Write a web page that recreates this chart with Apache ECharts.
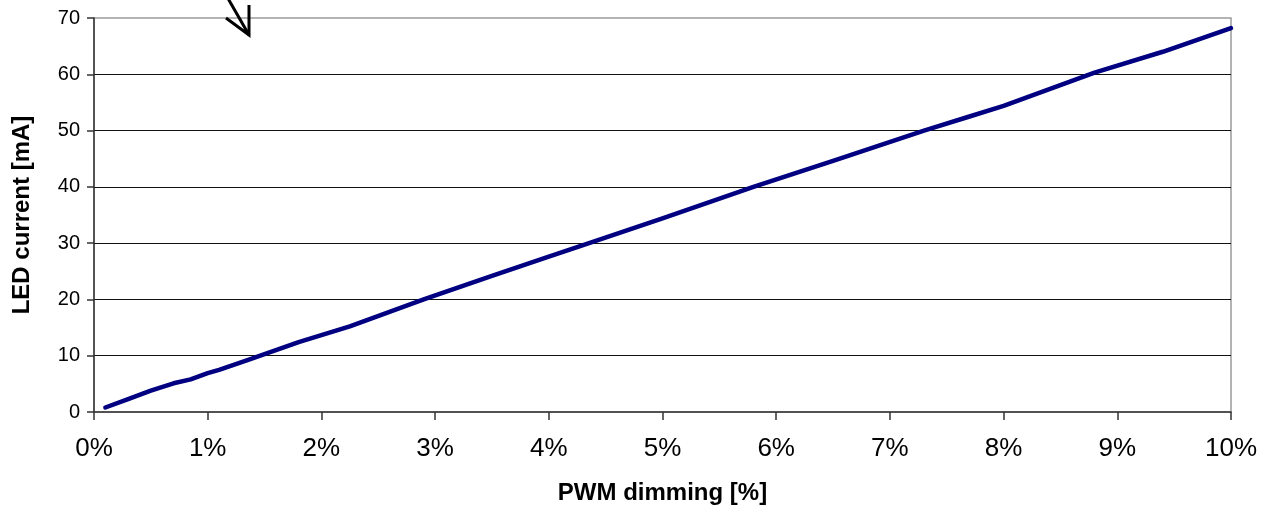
<!DOCTYPE html>
<html>
<head>
<meta charset="utf-8">
<script src="https://cdn.jsdelivr.net/npm/echarts@6/dist/echarts.min.js"></script>
<style>
html,body{margin:0;padding:0;background:#fff;}
#chart{width:1272px;height:505px;}
</style>
</head>
<body>
<div id="chart"></div>
<script>
// PWM dimming [%]
var pwmPercent = [0.1, 0.3, 0.5, 0.7, 0.85, 1.0, 1.1, 1.35, 1.8, 2.25, 2.9, 3.5, 4.0, 4.4, 5.0, 5.8, 6.5, 7.3, 7.7, 8.0, 8.8, 9.4, 10.0];
// LED current [mA]
var ledCurrent = [0.8, 2.3, 3.8, 5.1, 5.8, 6.9, 7.5, 9.2, 12.4, 15.2, 20.0, 24.2, 27.6, 30.3, 34.4, 40.0, 44.6, 50.0, 52.5, 54.4, 60.3, 64.0, 68.2];
var yTicks = [0, 10, 20, 30, 40, 50, 60, 70];
var xTicks = [0, 1, 2, 3, 4, 5, 6, 7, 8, 9, 10];

var seriesData = pwmPercent.map(function (x, i) { return [x, ledCurrent[i]]; });
var FONT = '"Liberation Sans", Arial, sans-serif';

var chart = echarts.init(document.getElementById('chart'));
chart.setOption({
  backgroundColor: '#fff',
  animation: false,
  grid: {
    left: 94, right: 41, top: 18, bottom: 93,
    containLabel: false,
    outerBoundsMode: 'none',
    show: true, borderColor: '#9a9a9a', borderWidth: 1.5
  },
  xAxis: {
    type: 'value',
    min: xTicks[0], max: xTicks[xTicks.length - 1], interval: 1,
    name: 'PWM dimming [%]',
    nameLocation: 'middle',
    nameGap: 69,
    nameTextStyle: { fontFamily: FONT, fontSize: 24, fontWeight: 'bold', color: '#000' },
    axisLine: { show: true, lineStyle: { color: '#333', width: 1.5 } },
    axisTick: { show: true, inside: false, length: 8, lineStyle: { color: '#333', width: 1.5 } },
    axisLabel: { formatter: '{value}%', fontFamily: FONT, fontSize: 26, color: '#000', margin: 24 },
    splitLine: { show: false }
  },
  yAxis: {
    type: 'value',
    min: yTicks[0], max: yTicks[yTicks.length - 1], interval: 10,
    name: 'LED current [mA]',
    nameLocation: 'middle',
    nameGap: 60,
    nameTextStyle: { fontFamily: FONT, fontSize: 24, fontWeight: 'bold', color: '#000' },
    axisLine: { show: true, lineStyle: { color: '#333', width: 1.5 } },
    axisTick: { show: true, inside: false, length: 7, lineStyle: { color: '#333', width: 1.5 } },
    axisLabel: { fontFamily: FONT, fontSize: 20, color: '#000', margin: 14 },
    splitLine: { show: true, showMinLine: false, showMaxLine: false, lineStyle: { color: '#111', width: 1.2 } }
  },
  series: [{
    type: 'line',
    data: seriesData,
    showSymbol: false,
    smooth: false,
    lineStyle: { color: '#000080', width: 4.5, cap: 'round', join: 'round' },
    itemStyle: { color: '#000080' }
  }],
  graphic: [
    { type: 'polyline', shape: { points: [[222, -12], [249, 35]] }, style: { stroke: '#000', lineWidth: 3, fill: null } },
    { type: 'polyline', shape: { points: [[226, 18], [249, 35], [249, 5]] }, style: { stroke: '#000', lineWidth: 3, fill: null, lineJoin: 'miter' } }
  ]
});
</script>
</body>
</html>
